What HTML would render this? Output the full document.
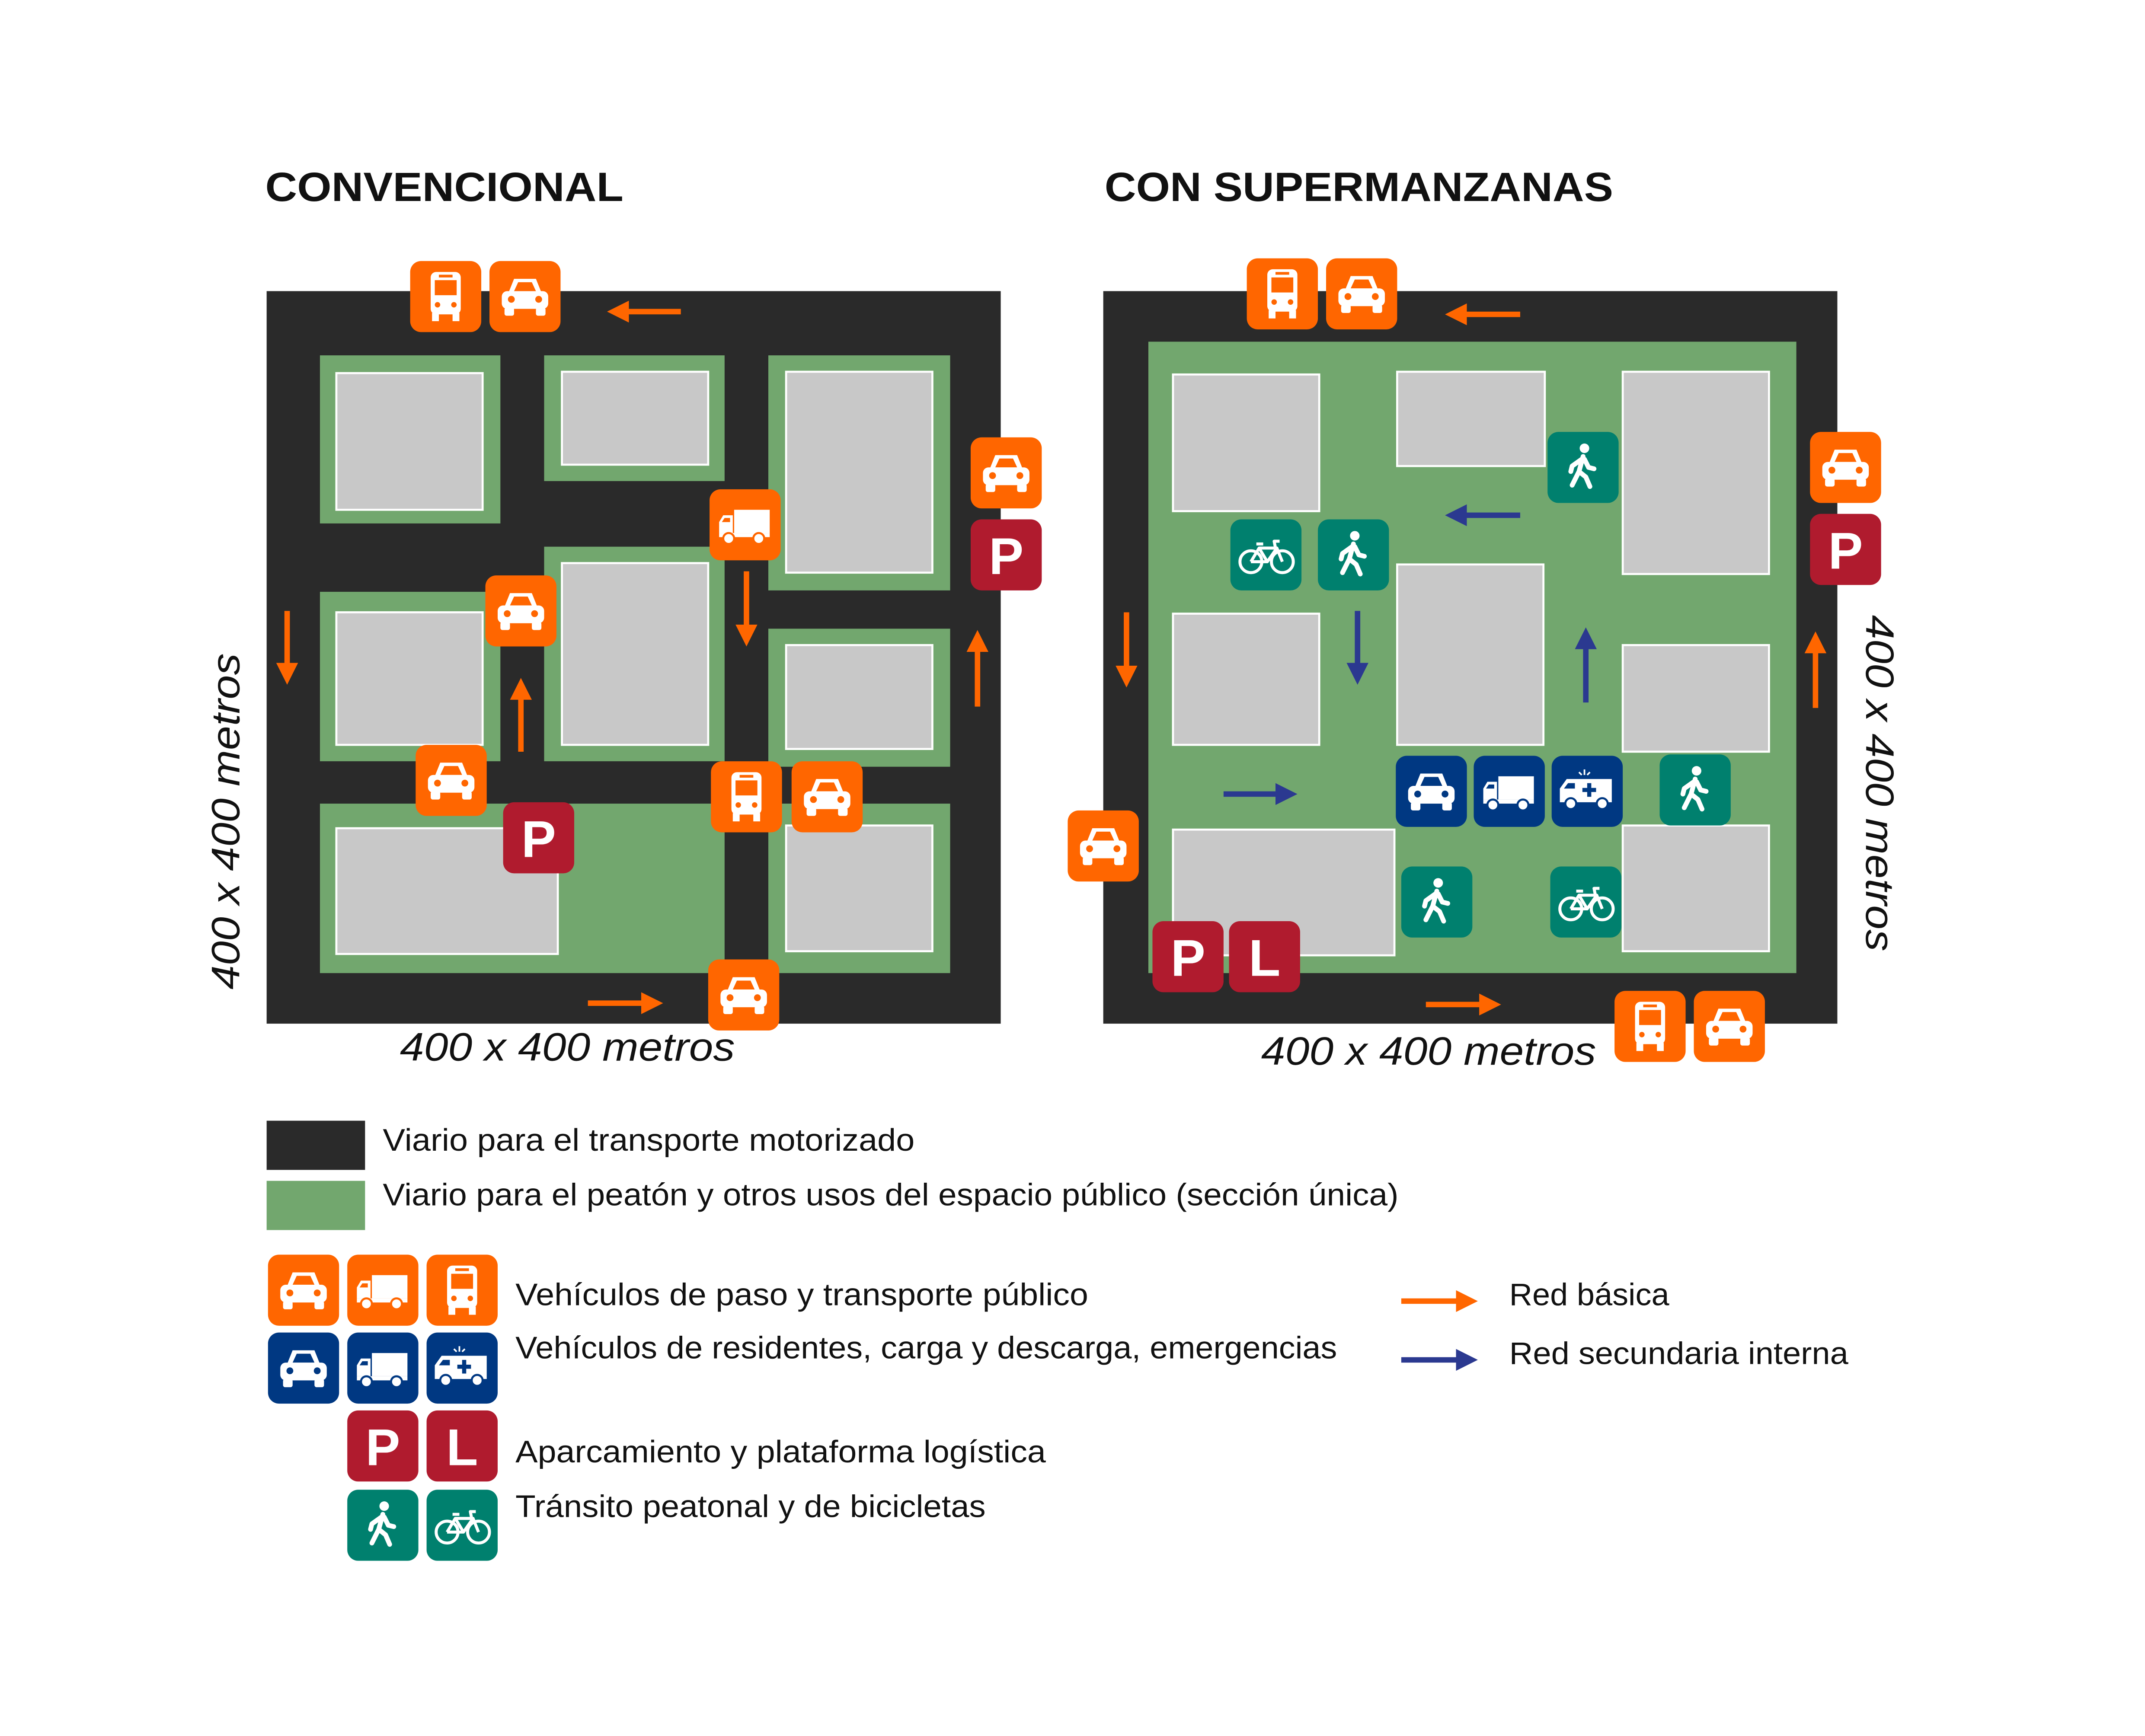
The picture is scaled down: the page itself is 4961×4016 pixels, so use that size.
<!DOCTYPE html>
<html><head><meta charset="utf-8"><style>html,body{margin:0;padding:0;background:#fff}svg{display:block}</style></head>
<body>
<svg xmlns="http://www.w3.org/2000/svg" width="4961" height="4016" viewBox="0 0 1569 1270.2" font-family="Liberation Sans, sans-serif">
<defs>
<g id="car"><path d="M14 23 L18 13 H34 L38 23 Z" fill="#fff"/><path d="M18 22 L21 15.5 H31 L34 22 Z" fill="currentColor"/><rect x="9" y="22" width="34" height="13" rx="4" fill="#fff"/><circle cx="16" cy="28" r="2.5" fill="currentColor"/><circle cx="36" cy="28" r="2.5" fill="currentColor"/><rect x="11" y="34" width="7" height="6" rx="1.5" fill="#fff"/><rect x="34" y="34" width="7" height="6" rx="1.5" fill="#fff"/></g>
<g id="bus"><rect x="15" y="8" width="22" height="31" rx="4" fill="#fff"/><rect x="18" y="14" width="16" height="11" fill="currentColor"/><rect x="21" y="10" width="10" height="2" fill="currentColor"/><circle cx="20" cy="32" r="2" fill="currentColor"/><circle cx="32" cy="32" r="2" fill="currentColor"/><rect x="16" y="38" width="5" height="6" fill="#fff"/><rect x="31" y="38" width="5" height="6" fill="#fff"/></g>
<g id="truck"><rect x="18" y="15" width="26" height="17" fill="#fff"/><path d="M7 32 V24 L10 19 H17 V32 Z" fill="#fff"/><path d="M9 24 L11 21 H15 V24 Z" fill="currentColor"/><rect x="7" y="32" width="37" height="3" fill="#fff"/><circle cx="14" cy="36" r="4" fill="#fff" stroke="currentColor" stroke-width="1.5"/><circle cx="36" cy="36" r="4" fill="#fff" stroke="currentColor" stroke-width="1.5"/></g>
<g id="amb"><path d="M6 34 V24 L11 17 H44 V34 Z" fill="#fff"/><path d="M9 24 L12 20 H17 V24 Z" fill="currentColor"/><rect x="26" y="20" width="3" height="10" fill="currentColor"/><rect x="22.5" y="23.5" width="10" height="3" fill="currentColor"/><circle cx="14" cy="35" r="4" fill="#fff" stroke="currentColor" stroke-width="1.5"/><circle cx="37" cy="35" r="4" fill="#fff" stroke="currentColor" stroke-width="1.5"/><path d="M24 10 v4 M20 12 l2 2 M28 12 l-2 2" stroke="#fff" stroke-width="1.2"/></g>
<g id="walk" fill="none" stroke="#fff" stroke-width="3.5" stroke-linecap="round" stroke-linejoin="round"><circle cx="27" cy="12" r="3.5" fill="#fff" stroke="none"/><path d="M26 18 L23 29 L18 39 M23 29 L28 33 L31 40 M25 20 L18 25 L17 29 M27 20 L30 26 L34 27"/></g>
<g id="bike" fill="none" stroke="#fff" stroke-width="2.2" stroke-linejoin="round"><circle cx="15" cy="31" r="8"/><circle cx="38" cy="31" r="8"/><path d="M15 31 L21 21 H34 L38 31 M21 21 L27 31 L34 21 M15 31 H27 M19 18 H24 M33 21 L32 16 H36"/></g>
<g id="P"><text x="26" y="40" text-anchor="middle" font-size="38" font-weight="bold" fill="#fff">P</text></g>
<g id="L"><text x="26" y="40" text-anchor="middle" font-size="38" font-weight="bold" fill="#fff">L</text></g>
<marker id="ao" markerWidth="4" markerHeight="4" refX="2" refY="2" orient="auto" markerUnits="strokeWidth"><path d="M0 0 L4 2 L0 4 Z" fill="#FF6600"/></marker>
<marker id="ab" markerWidth="4" markerHeight="4" refX="2" refY="2" orient="auto" markerUnits="strokeWidth"><path d="M0 0 L4 2 L0 4 Z" fill="#2B3990"/></marker>
</defs>

<text x="194" y="147" font-size="30" font-weight="bold" fill="#111" textLength="262" lengthAdjust="spacingAndGlyphs">CONVENCIONAL</text>
<text x="808" y="147" font-size="30" font-weight="bold" fill="#111" textLength="372" lengthAdjust="spacingAndGlyphs">CON SUPERMANZANAS</text>

<!-- left map -->
<rect x="195" y="213" width="537" height="536" fill="#2A2A2A"/>
<g fill="#72A76E">
<rect x="234" y="260" width="132" height="123"/><rect x="398" y="260" width="132" height="92"/><rect x="562" y="260" width="133" height="172"/>
<rect x="234" y="433" width="132" height="124"/><rect x="398" y="400" width="132" height="157"/><rect x="562" y="460" width="133" height="101"/>
<rect x="234" y="588" width="296" height="124"/><rect x="562" y="588" width="133" height="124"/>
</g>
<g fill="#C8C8C8" stroke="#fff" stroke-width="1.5">
<rect x="246" y="273" width="107" height="100"/><rect x="411" y="272" width="107" height="68"/><rect x="575" y="272" width="107" height="147"/>
<rect x="246" y="448" width="107" height="97"/><rect x="411" y="412" width="107" height="133"/><rect x="575" y="472" width="107" height="76"/>
<rect x="246" y="606" width="162" height="92"/><rect x="575" y="604" width="107" height="92"/>
</g>
<!-- right map -->
<rect x="807" y="213" width="537" height="536" fill="#2A2A2A"/>
<rect x="840" y="250" width="474" height="462" fill="#72A76E"/>
<g fill="#C8C8C8" stroke="#fff" stroke-width="1.5">
<rect x="858" y="274" width="107" height="100"/><rect x="1022" y="272" width="108" height="69"/><rect x="1187" y="272" width="107" height="148"/>
<rect x="858" y="449" width="107" height="96"/><rect x="1022" y="413" width="107" height="132"/><rect x="1187" y="472" width="107" height="78"/>
<rect x="858" y="607" width="162" height="92"/><rect x="1187" y="604" width="107" height="92"/>
</g>

<!-- arrows -->
<g stroke="#FF6600" stroke-width="4" marker-end="url(#ao)">
<line x1="498" y1="228" x2="452" y2="228"/><line x1="210" y1="447" x2="210" y2="493"/><line x1="381" y1="550" x2="381" y2="504"/>
<line x1="546" y1="418" x2="546" y2="465"/><line x1="715" y1="517" x2="715" y2="469"/><line x1="430" y1="734" x2="477" y2="734"/>
<line x1="1112" y1="230" x2="1065" y2="230"/><line x1="824" y1="448" x2="824" y2="495"/><line x1="1328" y1="518" x2="1328" y2="470"/>
<line x1="1043" y1="735" x2="1090" y2="735"/>
<line x1="1025" y1="952" x2="1073" y2="952"/>
</g>
<g stroke="#2B3990" stroke-width="4" marker-end="url(#ab)">
<line x1="1112" y1="377" x2="1065" y2="377"/><line x1="993" y1="447" x2="993" y2="493"/><line x1="1160" y1="514" x2="1160" y2="467"/>
<line x1="895" y1="581" x2="941" y2="581"/>
<line x1="1025" y1="995" x2="1073" y2="995"/>
</g>

<!-- icons: orange -->
<g color="#FF6600">
<g transform="translate(300,191)"><rect width="52" height="52" rx="8" fill="#FF6600"/><use href="#bus"/></g>
<g transform="translate(358,191)"><rect width="52" height="52" rx="8" fill="#FF6600"/><use href="#car"/></g>
<g transform="translate(710,320)"><rect width="52" height="52" rx="8" fill="#FF6600"/><use href="#car"/></g>
<g transform="translate(519,358)"><rect width="52" height="52" rx="8" fill="#FF6600"/><use href="#truck"/></g>
<g transform="translate(355,421)"><rect width="52" height="52" rx="8" fill="#FF6600"/><use href="#car"/></g>
<g transform="translate(304,545)"><rect width="52" height="52" rx="8" fill="#FF6600"/><use href="#car"/></g>
<g transform="translate(520,557)"><rect width="52" height="52" rx="8" fill="#FF6600"/><use href="#bus"/></g>
<g transform="translate(579,557)"><rect width="52" height="52" rx="8" fill="#FF6600"/><use href="#car"/></g>
<g transform="translate(518,702)"><rect width="52" height="52" rx="8" fill="#FF6600"/><use href="#car"/></g>
<g transform="translate(912,189)"><rect width="52" height="52" rx="8" fill="#FF6600"/><use href="#bus"/></g>
<g transform="translate(970,189)"><rect width="52" height="52" rx="8" fill="#FF6600"/><use href="#car"/></g>
<g transform="translate(1324,316)"><rect width="52" height="52" rx="8" fill="#FF6600"/><use href="#car"/></g>
<g transform="translate(781,593)"><rect width="52" height="52" rx="8" fill="#FF6600"/><use href="#car"/></g>
<g transform="translate(1181,725)"><rect width="52" height="52" rx="8" fill="#FF6600"/><use href="#bus"/></g>
<g transform="translate(1239,725)"><rect width="52" height="52" rx="8" fill="#FF6600"/><use href="#car"/></g>
<g transform="translate(196,918)"><rect width="52" height="52" rx="8" fill="#FF6600"/><use href="#car"/></g>
<g transform="translate(254,918)"><rect width="52" height="52" rx="8" fill="#FF6600"/><use href="#truck"/></g>
<g transform="translate(312,918)"><rect width="52" height="52" rx="8" fill="#FF6600"/><use href="#bus"/></g>
</g>
<!-- blue -->
<g color="#003882">
<g transform="translate(1021,553)"><rect width="52" height="52" rx="8" fill="#003882"/><use href="#car"/></g>
<g transform="translate(1078,553)"><rect width="52" height="52" rx="8" fill="#003882"/><use href="#truck"/></g>
<g transform="translate(1135,553)"><rect width="52" height="52" rx="8" fill="#003882"/><use href="#amb"/></g>
<g transform="translate(196,975)"><rect width="52" height="52" rx="8" fill="#003882"/><use href="#car"/></g>
<g transform="translate(254,975)"><rect width="52" height="52" rx="8" fill="#003882"/><use href="#truck"/></g>
<g transform="translate(312,975)"><rect width="52" height="52" rx="8" fill="#003882"/><use href="#amb"/></g>
</g>
<!-- red -->
<g>
<g transform="translate(710,380)"><rect width="52" height="52" rx="8" fill="#B01B2E"/><use href="#P"/></g>
<g transform="translate(368,587)"><rect width="52" height="52" rx="8" fill="#B01B2E"/><use href="#P"/></g>
<g transform="translate(1324,376)"><rect width="52" height="52" rx="8" fill="#B01B2E"/><use href="#P"/></g>
<g transform="translate(843,674)"><rect width="52" height="52" rx="8" fill="#B01B2E"/><use href="#P"/></g>
<g transform="translate(899,674)"><rect width="52" height="52" rx="8" fill="#B01B2E"/><use href="#L"/></g>
<g transform="translate(254,1032)"><rect width="52" height="52" rx="8" fill="#B01B2E"/><use href="#P"/></g>
<g transform="translate(312,1032)"><rect width="52" height="52" rx="8" fill="#B01B2E"/><use href="#L"/></g>
</g>
<!-- teal -->
<g>
<g transform="translate(1132,316)"><rect width="52" height="52" rx="8" fill="#00806E"/><use href="#walk"/></g>
<g transform="translate(900,380)"><rect width="52" height="52" rx="8" fill="#00806E"/><use href="#bike"/></g>
<g transform="translate(964,380)"><rect width="52" height="52" rx="8" fill="#00806E"/><use href="#walk"/></g>
<g transform="translate(1214,552)"><rect width="52" height="52" rx="8" fill="#00806E"/><use href="#walk"/></g>
<g transform="translate(1025,634)"><rect width="52" height="52" rx="8" fill="#00806E"/><use href="#walk"/></g>
<g transform="translate(1134,634)"><rect width="52" height="52" rx="8" fill="#00806E"/><use href="#bike"/></g>
<g transform="translate(254,1090)"><rect width="52" height="52" rx="8" fill="#00806E"/><use href="#walk"/></g>
<g transform="translate(312,1090)"><rect width="52" height="52" rx="8" fill="#00806E"/><use href="#bike"/></g>
</g>

<!-- measurement labels -->
<g font-size="29" font-style="italic" fill="#111">
<text x="415" y="776" text-anchor="middle" textLength="245" lengthAdjust="spacingAndGlyphs">400 x 400 metros</text>
<text x="1045" y="779" text-anchor="middle" textLength="245" lengthAdjust="spacingAndGlyphs">400 x 400 metros</text>
<text transform="translate(175,601) rotate(-90)" text-anchor="middle" textLength="246" lengthAdjust="spacingAndGlyphs">400 x 400 metros</text>
<text transform="translate(1365,573) rotate(90)" text-anchor="middle" textLength="246" lengthAdjust="spacingAndGlyphs">400 x 400 metros</text>
</g>

<!-- legend -->
<rect x="195" y="820" width="72" height="36" fill="#2A2A2A"/>
<rect x="195" y="864" width="72" height="36" fill="#72A76E"/>
<g font-size="23" fill="#111" lengthAdjust="spacingAndGlyphs">
<text x="280" y="842" textLength="389" lengthAdjust="spacingAndGlyphs">Viario para el transporte motorizado</text>
<text x="280" y="882" textLength="743" lengthAdjust="spacingAndGlyphs">Viario para el peatón y otros usos del espacio público (sección única)</text>
<text x="377" y="955" textLength="419" lengthAdjust="spacingAndGlyphs">Vehículos de paso y transporte público</text>
<text x="377" y="994" textLength="601" lengthAdjust="spacingAndGlyphs">Vehículos de residentes, carga y descarga, emergencias</text>
<text x="377" y="1070" textLength="388" lengthAdjust="spacingAndGlyphs">Aparcamiento y plataforma logística</text>
<text x="377" y="1110" textLength="344" lengthAdjust="spacingAndGlyphs">Tránsito peatonal y de bicicletas</text>
<text x="1104" y="955" textLength="117" lengthAdjust="spacingAndGlyphs">Red básica</text>
<text x="1104" y="998" textLength="248" lengthAdjust="spacingAndGlyphs">Red secundaria interna</text>
</g>
</svg>
</body></html>
